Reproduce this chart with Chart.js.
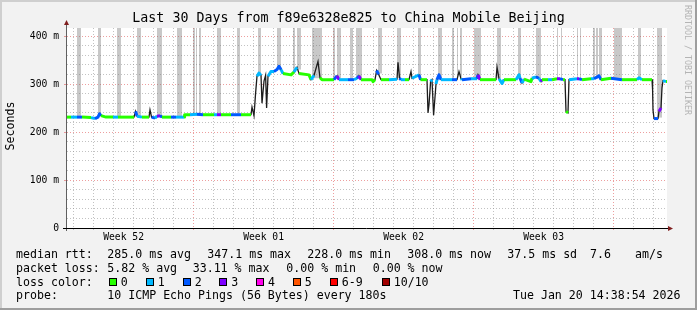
<!DOCTYPE html>
<html>
<head>
<meta charset="utf-8">
<script src="https://cdn.jsdelivr.net/npm/chart.js@4.4.1/dist/chart.umd.min.js"></script>
<style>
  html, body { margin: 0; padding: 0; background: #f2f2f2; }
  canvas { display: block; }
</style>
</head>
<body>
<canvas id="smoke" width="697" height="310"></canvas>
<script>
// ---- data (x = days since window start) ----
const titleText = 'Last 30 Days from f89e6328e825 to China Mobile Beijing';

const weekLabels = ['Week 52', 'Week 01', 'Week 02', 'Week 03'];
const weekLabelDays = [2.83, 9.83, 16.83, 23.83];
const weekLineDays = [6.3, 13.3, 20.3, 27.3];
const firstMidnight = 0.3;

const yTickValues = [0, 100, 200, 300, 400];
const yTickLabels = ['0', '100 m', '200 m', '300 m', '400 m'];

// median rtt (ms) and loss class of the segment that starts at each point
const medianDays = [
  0.00, 0.20, 0.50, 0.75, 1.20, 1.40, 1.55, 1.63, 1.70, 1.95, 2.30, 2.55, 3.35, 3.43, 3.50, 3.75,
  4.10, 4.15, 4.23, 4.40, 4.50, 4.65, 4.75, 5.20, 5.45, 5.85, 5.88, 6.15, 6.50, 6.80, 7.35, 7.50,
  7.70, 8.20, 8.70, 9.20, 9.25, 9.35, 9.43, 9.50, 9.60, 9.70, 9.75, 9.85, 9.93, 9.98, 10.05, 10.20,
  10.35, 10.50, 10.60, 10.70, 10.80, 11.20, 11.35, 11.50, 11.60, 12.10, 12.20, 12.35, 12.55, 12.65,
  12.75, 13.35, 13.50, 13.60, 14.05, 14.35, 14.50, 14.60, 14.70, 15.25, 15.30, 15.40, 15.48, 15.58,
  15.70, 16.10, 16.50, 16.55, 16.63, 16.70, 16.90, 17.10, 17.20, 17.25, 17.60, 17.68, 18.00, 18.05,
  18.10, 18.18, 18.25, 18.33, 18.45, 18.50, 18.60, 18.70, 19.25, 19.50, 19.60, 19.70, 19.75, 20.20,
  20.50, 20.55, 20.65, 21.45, 21.50, 21.60, 21.75, 21.85, 22.45, 22.60, 22.65, 22.75, 22.85, 23.20,
  23.25, 23.45, 23.60, 23.70, 23.75, 24.05, 24.25, 24.50, 24.65, 24.80, 24.90, 24.95, 25.05, 25.10,
  25.50, 25.60, 25.75, 26.20, 26.35, 26.60, 26.70, 27.20, 27.75, 28.50, 28.60, 28.75, 29.25, 29.28,
  29.30, 29.35, 29.55, 29.60, 29.70, 29.75, 29.80, 29.95, 30.00
];
const medianMs = [
  231, 231, 231, 231, 230, 228, 231, 238, 234, 231, 231, 231, 231, 243, 233, 231,
  231, 246, 231, 229, 233, 234, 231, 231, 231, 231, 236, 236, 237, 236, 236, 236,
  236, 236, 236, 236, 252, 234, 281, 316, 323, 318, 260, 306, 318, 250, 316, 326,
  326, 330, 337, 330, 322, 319, 325, 335, 322, 319, 309, 318, 347, 313,
  309, 309, 317, 309, 309, 309, 312, 317, 309, 309, 305, 309, 328, 320,
  309, 309, 310, 345, 312, 309, 309, 309, 326, 312, 319, 309, 309, 240,
  257, 305, 309, 235, 300, 309, 319, 309, 309, 309, 326, 311, 309, 311,
  311, 319, 309, 309, 335, 311, 301, 309, 309, 319, 312, 302, 310, 305,
  312, 315, 312, 305, 309, 309, 309, 311, 311, 309, 309, 243, 240, 309,
  311, 311, 309, 311, 311, 317, 309, 312, 309, 309, 313, 309, 309, 288,
  246, 228, 228, 243, 250, 292, 307, 305, 305
];
const medianLoss = [
  0, 1, 2, 0, 1, 2, 2, 2, 0, 0, 1, 0, 0, 2, 1, 0,
  0, 1, 2, 1, 3, 2, 0, 2, 1, 0, 0, 1, 2, 0, 1, 3,
  0, 2, 0, 2, 1, 1, 1, 1, 1, 1, 1, 1, 1, 0, 1, 1,
  2, 2, 2, 1, 0, 0, 1, 2, 0, 0, 1, 1, 1, 0,
  0, 2, 3, 1, 2, 1, 2, 3, 0, 0, 0, 1, 2, 2,
  0, 1, 1, 1, 2, 1, 0, 1, 1, 1, 2, 0, 0, 0,
  1, 1, 1, 1, 1, 2, 2, 1, 2, 2, 3, 1, 2, 1,
  2, 3, 0, 0, 1, 1, 1, 0, 1, 1, 2, 1, 0, 0,
  1, 2, 1, 3, 0, 1, 0, 3, 2, 0, 0, 0, 0, 1,
  3, 2, 0, 1, 2, 2, 0, 2, 0, 1, 1, 0, 0, 0,
  0, 2, 3, 3, 0, 0, 1, 0, 0
];

// grey smoke reaching the top of the graph
const bandStart = [0.50, 1.55, 2.50, 3.50, 4.50, 5.50, 6.30, 6.45, 6.60, 7.50, 8.50, 9.55, 10.50, 11.30,
  11.50, 12.25, 13.30, 13.50, 14.15, 14.45, 15.55, 16.50, 17.55, 18.55, 19.25, 19.50, 19.65, 20.35,
  21.50, 22.55, 23.45, 24.50, 24.70, 25.50, 25.65, 26.30, 26.45, 26.60, 27.35, 28.55, 29.50];
const bandEnd = [0.70, 1.70, 2.70, 3.70, 4.75, 5.75, 6.40, 6.50, 6.70, 7.70, 8.65, 9.70, 10.70, 11.40,
  11.70, 12.75, 13.40, 13.70, 14.30, 14.75, 15.75, 16.70, 17.70, 18.75, 19.35, 19.55, 19.75, 20.70,
  21.70, 22.70, 23.70, 24.55, 24.75, 25.55, 25.70, 26.40, 26.55, 26.75, 27.75, 28.70, 29.75];
const bandFloor = [231, 234, 231, 233, 233, 231, 236, 236, 236, 236, 236, 320, 335, 322,
  330, 312, 312, 312, 309, 312, 322, 312, 315, 312, 309, 315, 315, 312,
  312, 312, 312, 311, 311, 311, 311, 311, 311, 312, 311, 311, 230];

const lossLabels = ['0', '1', '2', '3', '4', '5', '6-9', '10/10'];
const statRows = [
  ['median rtt:', '285.0 ms avg', '347.1 ms max', '228.0 ms min', '308.0 ms now', '37.5 ms sd', '7.6', 'am/s'],
  ['packet loss:', '5.82 % avg', '33.11 % max', '0.00 % min', '0.00 % now']
];
const lossRowTitle = 'loss color:';
const probeRow = ['probe:', '10 ICMP Echo Pings (56 Bytes) every 180s'];
const stampText = 'Tue Jan 20 14:38:54 2026';

// ---- styles ----
const MONO = '"DejaVu Sans Mono", "Liberation Mono", monospace';
const lossColors = ['#26ff00', '#00b8ff', '#0059ff', '#7e00ff', '#ff00ea', '#ff5500', '#ff0000', '#a10000'];
const GRID = 'rgba(143,143,143,0.55)';
const MGRID = 'rgba(222,79,79,0.55)';
const Y_TOP = 400 * 200 / 192;

const near = (a, b) => Math.abs(a - b) < 0.001;
const isWeekLabel = v => weekLabelDays.some(d => near(d, v));
const isWeekLine = v => weekLineDays.some(d => near(d, v));

const xTickValues = [];
for (let d = firstMidnight; d < 30; d += 1) xTickValues.push(+d.toFixed(2));
weekLabelDays.forEach(d => xTickValues.push(d));
xTickValues.sort((a, b) => a - b);

const yGridValues = [];
for (let v = 0; v <= 400; v += 20) yGridValues.push(v);

const medianPts = medianDays.map((d, i) => ({ x: d, y: medianMs[i] }));

const bandSets = bandStart.map((s, i) => ({
  data: [{ x: s, y: Y_TOP }, { x: bandEnd[i], y: Y_TOP }],
  fill: { value: bandFloor[i] },
  backgroundColor: 'rgba(110,110,110,0.38)',
  borderColor: 'rgba(0,0,0,0)',
  borderWidth: 0,
  pointRadius: 0,
  order: 3
}));

const rrdDecor = {
  id: 'rrdDecor',
  beforeDraw(chart) {
    const { ctx, chartArea: a } = chart;
    ctx.save();
    ctx.fillStyle = '#f2f2f2';
    ctx.fillRect(0, 0, 697, 310);
    ctx.fillStyle = '#cfcfcf';
    ctx.fillRect(0, 0, 697, 2);
    ctx.fillRect(0, 0, 2, 310);
    ctx.fillStyle = '#9e9e9e';
    ctx.fillRect(0, 308, 697, 2);
    ctx.fillRect(695, 0, 2, 310);
    ctx.fillStyle = '#ffffff';
    ctx.fillRect(a.left, a.top, a.right - a.left, a.bottom - a.top);
    ctx.restore();
  },
  afterDraw(chart) {
    const { ctx, chartArea: a } = chart;
    ctx.save();
    // axes
    ctx.strokeStyle = '#606060';
    ctx.lineWidth = 1;
    ctx.beginPath();
    ctx.moveTo(a.left - 0.5, a.bottom + 3);
    ctx.lineTo(a.left - 0.5, a.top - 4);
    ctx.stroke();
    ctx.strokeStyle = '#000000';
    ctx.beginPath();
    ctx.moveTo(a.left - 4, a.bottom + 0.5);
    ctx.lineTo(a.right + 3, a.bottom + 0.5);
    ctx.stroke();
    ctx.fillStyle = 'rgb(128,31,31)';
    ctx.beginPath();
    ctx.moveTo(a.left - 3, a.top - 3);
    ctx.lineTo(a.left + 2, a.top - 3);
    ctx.lineTo(a.left - 0.5, a.top - 8);
    ctx.closePath();
    ctx.fill();
    ctx.beginPath();
    ctx.moveTo(a.right + 1, a.bottom - 2);
    ctx.lineTo(a.right + 1, a.bottom + 3);
    ctx.lineTo(a.right + 6, a.bottom + 0.5);
    ctx.closePath();
    ctx.fill();

    // y axis name
    ctx.fillStyle = '#000000';
    ctx.font = '11.6px ' + MONO;
    ctx.textAlign = 'center';
    ctx.textBaseline = 'middle';
    ctx.save();
    ctx.translate(11, 126);
    ctx.rotate(-Math.PI / 2);
    ctx.fillText('Seconds', 0, 0);
    ctx.restore();

    // watermark
    ctx.save();
    ctx.fillStyle = '#b4b4b4';
    ctx.font = '8.3px ' + MONO;
    ctx.translate(687, 60);
    ctx.rotate(Math.PI / 2);
    ctx.fillText('RRDTOOL / TOBI OETIKER', 0, 0);
    ctx.restore();

    // legend rows
    ctx.textAlign = 'left';
    ctx.textBaseline = 'alphabetic';
    ctx.fillStyle = '#000000';
    const rowX = [
      [16, 107.3, 207.3, 307.3, 407.3, 507.3, 590, 635],
      [16, 107.3, 192.7, 286.3, 372.7]
    ];
    const rowY = [257.7, 271.7, 285.7, 299.4];
    statRows.forEach((row, r) => row.forEach((t, i) => ctx.fillText(t, rowX[r][i], rowY[r])));
    ctx.fillText(lossRowTitle, 16, rowY[2]);
    const boxX = [108.7, 145.7, 182.7, 219.3, 256, 292.7, 329.7, 381.7];
    lossLabels.forEach((t, i) => {
      const bx = Math.round(boxX[i]);
      ctx.fillStyle = lossColors[i];
      ctx.fillRect(bx, 278, 8, 8);
      ctx.strokeStyle = '#000000';
      ctx.strokeRect(bx + 0.5, 278.5, 7, 7);
      ctx.fillStyle = '#000000';
      ctx.fillText(t, boxX[i] + 12, rowY[2]);
    });
    ctx.fillText(probeRow[0], 16, rowY[3]);
    ctx.fillText(probeRow[1], 107.3, rowY[3]);
    ctx.textAlign = 'right';
    ctx.fillText(stampText, 680.5, rowY[3]);
    ctx.restore();
  }
};

new Chart(document.getElementById('smoke'), {
  type: 'line',
  data: {
    datasets: [
      {
        data: medianPts,
        borderWidth: 3,
        borderColor: lossColors[0],
        borderJoinStyle: 'round',
        pointRadius: 0,
        fill: false,
        order: 0,
        segment: {
          borderColor: c => Math.abs(c.p1.y - c.p0.y) > 5 ? 'rgba(0,0,0,0)' : lossColors[medianLoss[c.p0DataIndex]]
        }
      },
      {
        data: medianPts,
        borderWidth: 1.3,
        borderColor: '#1c1c1c',
        pointRadius: 0,
        fill: false,
        order: 1
      },
      ...bandSets
    ]
  },
  options: {
    responsive: false,
    animation: false,
    events: [],
    layout: { padding: 0 },
    plugins: {
      legend: { display: false },
      tooltip: { enabled: false },
      title: {
        display: true,
        text: titleText,
        color: '#000000',
        font: { family: MONO, size: 13.3, weight: 'normal', lineHeight: 1.2 },
        padding: { top: 11, bottom: 1.04 }
      }
    },
    scales: {
      x: {
        type: 'linear',
        min: 0,
        max: 30,
        afterBuildTicks: s => { s.ticks = xTickValues.map(v => ({ value: v })); },
        afterFit: s => { s.height = 82; },
        border: { display: false, dash: [1, 2] },
        grid: {
          color: c => isWeekLabel(c.tick.value) ? 'rgba(0,0,0,0)' : (isWeekLine(c.tick.value) ? MGRID : GRID),
          tickColor: c => isWeekLabel(c.tick.value) ? 'rgba(0,0,0,0)' : (isWeekLine(c.tick.value) ? MGRID : GRID),
          tickLength: 2,
          lineWidth: 1
        },
        ticks: {
          autoSkip: false,
          maxRotation: 0,
          padding: 2,
          color: '#000000',
          font: { family: MONO, size: 9.7 },
          callback: v => {
            const i = weekLabelDays.findIndex(d => near(d, v));
            return i >= 0 ? weekLabels[i] : '';
          }
        }
      },
      y: {
        type: 'linear',
        min: 0,
        max: Y_TOP,
        afterBuildTicks: s => { s.ticks = yGridValues.map(v => ({ value: v })); },
        afterFit: s => { s.width = 67; },
        border: { display: false, dash: [1, 2] },
        grid: {
          color: c => c.tick.value % 100 === 0 ? MGRID : GRID,
          tickColor: c => c.tick.value % 100 === 0 ? MGRID : 'rgba(0,0,0,0)',
          tickLength: 3,
          lineWidth: 1
        },
        ticks: {
          autoSkip: false,
          padding: 5,
          color: '#000000',
          font: { family: MONO, size: 9.7 },
          callback: v => {
            const i = yTickValues.indexOf(v);
            return i >= 0 ? yTickLabels[i] : '';
          }
        }
      },
      // empty right-hand gutter so the plot ends where the reference does
      gutter: {
        type: 'linear',
        position: 'right',
        display: true,
        afterFit: s => { s.width = 30; },
        border: { display: false },
        grid: { display: false, drawTicks: false },
        ticks: { display: false }
      }
    }
  },
  plugins: [rrdDecor]
});
</script>
</body>
</html>
